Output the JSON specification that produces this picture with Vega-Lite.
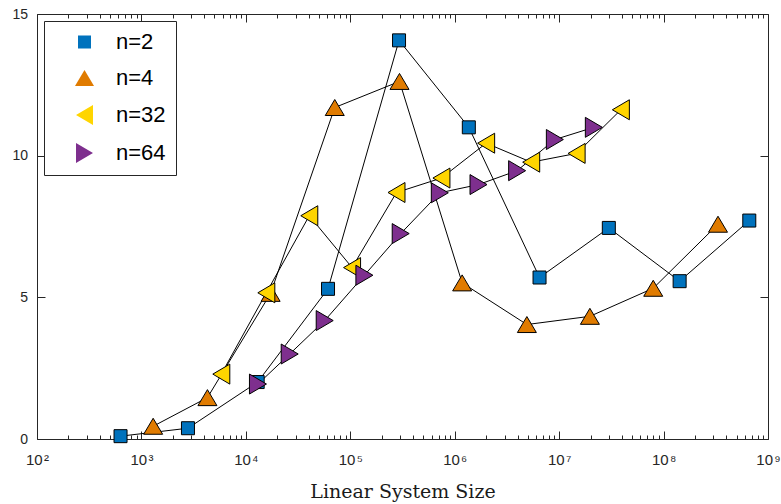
{
  "$schema": "https://vega.github.io/schema/vega-lite/v6.json",
  "width": 731,
  "height": 425,
  "autosize": {"type": "none"},
  "padding": {"left": 37, "top": 14, "right": 13, "bottom": 65},
  "config": {"view": {"stroke": null}, "font": "Liberation Sans"},
  "data": {
    "values": [
      {"s": "n=2", "x": 631, "y": 0.1},
      {"s": "n=2", "x": 2790, "y": 0.38},
      {"s": "n=2", "x": 12980, "y": 2.01},
      {"s": "n=2", "x": 61200, "y": 5.3},
      {"s": "n=2", "x": 293000, "y": 14.07},
      {"s": "n=2", "x": 1365000, "y": 11.0},
      {"s": "n=2", "x": 6490000, "y": 5.7},
      {"s": "n=2", "x": 29900000, "y": 7.45},
      {"s": "n=2", "x": 142500000, "y": 5.57},
      {"s": "n=2", "x": 662000000, "y": 7.71},
      {"s": "n=4", "x": 1295, "y": 0.45},
      {"s": "n=4", "x": 4285, "y": 1.46},
      {"s": "n=4", "x": 17260, "y": 5.14},
      {"s": "n=4", "x": 71000, "y": 11.7},
      {"s": "n=4", "x": 296000, "y": 12.62},
      {"s": "n=4", "x": 1178000, "y": 5.51},
      {"s": "n=4", "x": 4910000, "y": 4.04},
      {"s": "n=4", "x": 19700000, "y": 4.33},
      {"s": "n=4", "x": 79600000, "y": 5.32},
      {"s": "n=4", "x": 332000000, "y": 7.58},
      {"s": "n=32", "x": 5820, "y": 2.29},
      {"s": "n=32", "x": 15700, "y": 5.16},
      {"s": "n=32", "x": 40500, "y": 7.88},
      {"s": "n=32", "x": 104000, "y": 6.05},
      {"s": "n=32", "x": 277000, "y": 8.7},
      {"s": "n=32", "x": 746000, "y": 9.21},
      {"s": "n=32", "x": 2000000, "y": 10.44},
      {"s": "n=32", "x": 5400000, "y": 9.77},
      {"s": "n=32", "x": 14700000, "y": 10.08},
      {"s": "n=32", "x": 39000000, "y": 11.62},
      {"s": "n=64", "x": 13060, "y": 1.94},
      {"s": "n=64", "x": 26300, "y": 3.0},
      {"s": "n=64", "x": 56900, "y": 4.18},
      {"s": "n=64", "x": 136500, "y": 5.78},
      {"s": "n=64", "x": 304000, "y": 7.25},
      {"s": "n=64", "x": 720000, "y": 8.69},
      {"s": "n=64", "x": 1690000, "y": 8.98},
      {"s": "n=64", "x": 3960000, "y": 9.47},
      {"s": "n=64", "x": 9100000, "y": 10.57},
      {"s": "n=64", "x": 21500000, "y": 11.0}
    ]
  },
  "resolve": {
    "axis": {"x": "independent", "y": "independent"}
  },
  "layer": [
    {
      "mark": {"type": "line", "color": "black", "strokeWidth": 1},
      "encoding": {
        "x": {
          "field": "x", "type": "quantitative",
          "scale": {"type": "log", "domain": [100, 1000000000], "nice": false},
          "axis": {
            "orient": "bottom",
            "values": [100,200,300,400,500,600,700,800,900,1000,2000,3000,4000,5000,6000,7000,8000,9000,1e4,2e4,3e4,4e4,5e4,6e4,7e4,8e4,9e4,1e5,2e5,3e5,4e5,5e5,6e5,7e5,8e5,9e5,1e6,2e6,3e6,4e6,5e6,6e6,7e6,8e6,9e6,1e7,2e7,3e7,4e7,5e7,6e7,7e7,8e7,9e7,1e8,2e8,3e8,4e8,5e8,6e8,7e8,8e8,9e8,1e9],
            "labelExpr": "abs(log(datum.value)/LN10 - round(log(datum.value)/LN10)) < 0.001 ? '10\u200a' + ['⁰','¹','²','³','⁴','⁵','⁶','⁷','⁸','⁹'][round(log(datum.value)/LN10)] : ''",
            "labelOverlap": false,
            "labelFlush": false,
            "labelFont": "Liberation Sans",
            "labelFontSize": 15,
            "labelColor": "#262626",
            "labelPadding": 21,
            "tickSize": {"condition": {"test": "abs(log(datum.value)/LN10 - round(log(datum.value)/LN10)) < 0.001", "value": -8}, "value": -4},
            "tickColor": "#262626",
            "domainColor": "#262626",
            "grid": false,
            "title": "Linear System Size",
            "titleFont": "DejaVu Serif",
            "titleFontSize": 19,
            "titleFontWeight": "normal",
            "titleColor": "#1a1a1a",
            "titlePadding": 11
          }
        },
        "y": {
          "field": "y", "type": "quantitative",
          "scale": {"domain": [0, 15], "nice": false},
          "axis": {
            "orient": "left",
            "values": [0, 5, 10, 15],
            "labelFont": "Liberation Sans",
            "labelFontSize": 14,
            "labelColor": "#262626",
            "labelPadding": 17.5,
            "tickSize": -8,
            "tickColor": "#262626",
            "domainColor": "#262626",
            "grid": false,
            "title": null
          }
        },
        "detail": {"field": "s"}
      }
    },
    {
      "mark": {"type": "point", "filled": true, "size": 4, "opacity": 1, "stroke": "black", "strokeWidth": 1},
      "encoding": {
        "x": {
          "field": "x", "type": "quantitative",
          "axis": {
            "orient": "top",
            "values": [100,200,300,400,500,600,700,800,900,1000,2000,3000,4000,5000,6000,7000,8000,9000,1e4,2e4,3e4,4e4,5e4,6e4,7e4,8e4,9e4,1e5,2e5,3e5,4e5,5e5,6e5,7e5,8e5,9e5,1e6,2e6,3e6,4e6,5e6,6e6,7e6,8e6,9e6,1e7,2e7,3e7,4e7,5e7,6e7,7e7,8e7,9e7,1e8,2e8,3e8,4e8,5e8,6e8,7e8,8e8,9e8,1e9],
            "labels": false,
            "tickSize": {"condition": {"test": "abs(log(datum.value)/LN10 - round(log(datum.value)/LN10)) < 0.001", "value": -8}, "value": -4},
            "tickColor": "#262626",
            "domainColor": "#262626",
            "grid": false,
            "title": null
          }
        },
        "y": {
          "field": "y", "type": "quantitative",
          "axis": {
            "orient": "right",
            "values": [0, 5, 10, 15],
            "labels": false,
            "tickSize": -8,
            "tickColor": "#262626",
            "domainColor": "#262626",
            "grid": false,
            "title": null
          }
        },
        "color": {
          "condition": [
            {"test": "datum.s === 'n=2'", "value": "#0072BD"},
            {"test": "datum.s === 'n=4'", "value": "#E07B00"},
            {"test": "datum.s === 'n=32'", "value": "#FFD500"}
          ],
          "value": "#7E2F8E"
        },
        "shape": {
          "condition": [
            {"test": "datum.s === 'n=2'", "value": "M-6.5,-6.5H6.5V6.5H-6.5Z"},
            {"test": "datum.s === 'n=4'", "value": "M0,-8L9.5,8H-9.5Z"},
            {"test": "datum.s === 'n=32'", "value": "M-8.5,0L8.5,-10V10Z"}
          ],
          "value": "M8.5,0L-8.5,-10V10Z"
        }
      }
    },
    {
      "transform": [{"filter": "datum.y < -100"}],
      "mark": {"type": "point", "filled": true, "size": 4, "opacity": 1, "stroke": "black", "strokeWidth": 1},
      "encoding": {
        "x": {"field": "x", "type": "quantitative", "axis": null},
        "y": {"field": "y", "type": "quantitative", "axis": null},
        "color": {
          "field": "s", "type": "nominal",
          "scale": {"domain": ["n=2", "n=4", "n=32", "n=64"], "range": ["#0072BD", "#E07B00", "#FFD500", "#7E2F8E"]},
          "legend": {
            "title": null,
            "orient": "top-left",
            "offset": 7,
            "padding": 10,
            "strokeColor": "#262626",
            "fillColor": "white",
            "labelFont": "Liberation Sans",
            "labelFontSize": 22,
            "labelColor": "black",
            "rowPadding": 14,
            "symbolSize": 4,
            "symbolOffset": 19.5,
            "labelOffset": 20.5,
            "symbolStrokeColor": "black",
            "symbolStrokeWidth": 1,
            "symbolOpacity": 1
          }
        },
        "shape": {
          "field": "s", "type": "nominal",
          "scale": {"domain": ["n=2", "n=4", "n=32", "n=64"], "range": [
            "M-28,0L-6.5,0L-6.5,-6.5L6.5,-6.5L6.5,0L28,0L6.5,0L6.5,6.5L-6.5,6.5L-6.5,0Z",
            "M-28,0L-4.75,0L0,-8L4.75,0L28,0L4.75,0L9.5,8L-9.5,8L-4.75,0Z",
            "M-28,0L-8.5,0L8.5,-10L8.5,0L28,0L8.5,0L8.5,10L-8.5,0Z",
            "M-28,0L-8.5,0L-8.5,-10L8.5,0L28,0L8.5,0L-8.5,10L-8.5,0Z"
          ]},
          "legend": {
            "title": null,
            "orient": "top-left",
            "offset": 7,
            "padding": 10,
            "strokeColor": "#262626",
            "fillColor": "white",
            "labelFont": "Liberation Sans",
            "labelFontSize": 22,
            "labelColor": "black",
            "rowPadding": 14,
            "symbolSize": 4,
            "symbolOffset": 19.5,
            "labelOffset": 20.5,
            "symbolStrokeColor": "black",
            "symbolStrokeWidth": 1,
            "symbolOpacity": 1
          }
        }
      }
    }
  ]
}
